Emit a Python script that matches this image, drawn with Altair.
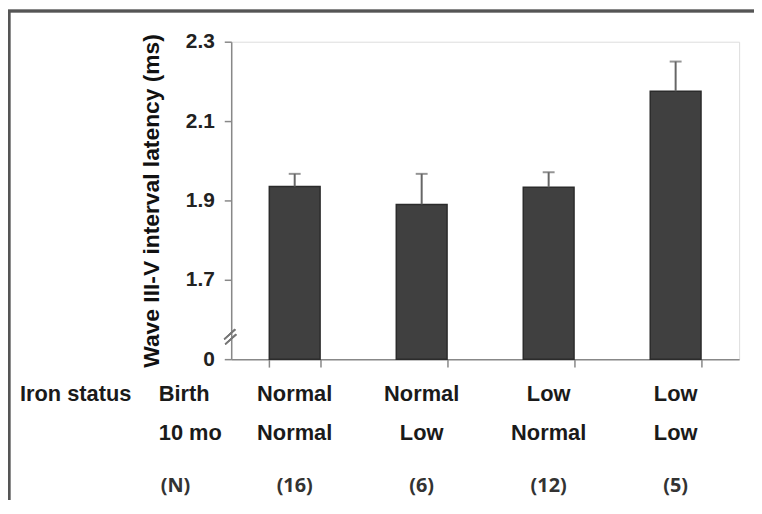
import altair as alt
import pandas as pd

groups = ["Normal-Normal", "Normal-Low", "Low-Normal", "Low-Low"]
birth = ["Normal", "Normal", "Low", "Low"]
mo10 = ["Normal", "Low", "Normal", "Low"]
ns = ["(16)", "(6)", "(12)", "(5)"]
means = [1.935, 1.890, 1.933, 2.175]
uppers = [1.967, 1.967, 1.971, 2.250]
y_ticks = [1.5, 1.7, 1.9, 2.1, 2.3]
left_labels = ["Iron status", "Birth", "10 mo", "(N)"]

df = pd.DataFrame({"group": groups, "birth": birth, "mo10": mo10, "n": ns,
                   "mean": means, "upper": uppers})

LAB_FONT = "Liberation Sans"
N_FONT = "Open Sans"
LAB_SIZE = 22
N_SIZE = 20

xenc = alt.X("group:N", sort=groups,
             scale=alt.Scale(paddingInner=0.6, paddingOuter=0.3),
             axis=alt.Axis(title=None, labels=False, tickBand="extent", tickSize=8,
                           tickColor="#888888", tickWidth=1.5,
                           domainColor="#888888", domainWidth=1.5))
yscale = alt.Scale(domain=[1.5, 2.3], nice=False, zero=False)

base = alt.Chart(df)

bars = base.mark_bar(color="#404040", stroke="#2b2b2b", strokeWidth=1.5).encode(
    x=xenc,
    y=alt.Y("mean:Q", scale=yscale,
            axis=alt.Axis(values=y_ticks, title="Wave III-V interval latency (ms)",
                          labelExpr="datum.value == 1.5 ? '0' : format(datum.value, '.1f')",
                          grid=False, tickSize=7, tickColor="#888888", tickWidth=1.5,
                          domainColor="#888888", domainWidth=1.5,
                          labelFont="Liberation Sans", labelFontSize=21, labelFontWeight="bold",
                          labelColor="#222222", labelPadding=10,
                          titleFont="Liberation Sans", titleFontSize=23, titleFontWeight="bold",
                          titleColor="#111111", titlePadding=22)),
    y2=alt.datum(1.5),
)

err = base.mark_rule(color="#666666", strokeWidth=2).encode(
    x=alt.X("group:N", sort=groups), y="mean:Q", y2="upper:Q")
caps = base.mark_tick(color="#666666", thickness=2, size=12).encode(
    x=alt.X("group:N", sort=groups), y="upper:Q")

def row(field, ypos, font, size, color):
    return base.mark_text(font=font, fontSize=size, fontWeight="bold", color=color,
                          baseline="middle").encode(
        x=alt.X("group:N", sort=groups), y=alt.value(ypos), text=f"{field}:N")

row1 = row("birth", 355, LAB_FONT, LAB_SIZE, "#1a1a1a")
row2 = row("mo10", 394, LAB_FONT, LAB_SIZE, "#1a1a1a")
row3 = row("n", 448, N_FONT, N_SIZE, "#333333")

def left(txt, xpos, ypos, font, size, color):
    return alt.Chart(pd.DataFrame({"t": [txt]})).mark_text(
        font=font, fontSize=size, fontWeight="bold", color=color, align="left",
        baseline="middle").encode(x=alt.value(xpos), y=alt.value(ypos), text="t:N")

lab_iron = left(left_labels[0], -213, 355, LAB_FONT, LAB_SIZE, "#1a1a1a")
lab_birth = left(left_labels[1], -73, 355, LAB_FONT, LAB_SIZE, "#1a1a1a")
lab_mo = left(left_labels[2], -73, 394, LAB_FONT, LAB_SIZE, "#1a1a1a")
lab_n = left(left_labels[3], -71, 448, N_FONT, N_SIZE, "#333333")

brk1 = alt.Chart(df).mark_rule(color="#777777", strokeWidth=1.5).encode(
    x=alt.value(-7), x2=alt.value(4), y=alt.value(300), y2=alt.value(290))
brk2 = alt.Chart(df).mark_rule(color="#777777", strokeWidth=1.5).encode(
    x=alt.value(-6), x2=alt.value(5), y=alt.value(305), y2=alt.value(295))

frame_left = alt.Chart(df).mark_rule(color="#555555", strokeWidth=2.5).encode(
    x=alt.value(-224), y=alt.value(-32), y2=alt.value(464))
frame_top = alt.Chart(df).mark_rule(color="#555555", strokeWidth=2.5).encode(
    x=alt.value(-225), x2=alt.value(527), y=alt.value(-31))

chart = alt.layer(bars, err, caps, row1, row2, row3, lab_iron, lab_birth, lab_mo, lab_n,
                  brk1, brk2, frame_left, frame_top).properties(
    width=512, height=320,
    autosize=alt.AutoSizeParams(type="none"),
    padding={"left": 225, "top": 32, "right": 15, "bottom": 140},
).configure_view(stroke=None).configure(background="white")

chart.save("out.html", embed_options={"renderer": "svg", "actions": False})
